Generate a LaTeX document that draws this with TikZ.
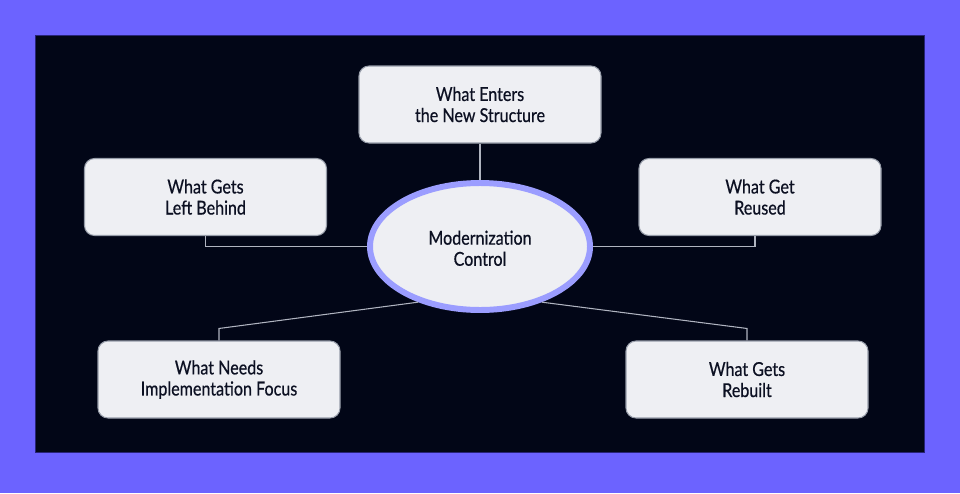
\documentclass[tikz,border=0pt]{standalone}
\usepackage{fontspec}
\setmainfont{Lato}
\newfontfamily\cardfont{Lato}[FakeBold=0.6, FakeStretch=0.84]
\usepackage{xcolor}
\usepackage{tikz}
\usetikzlibrary{positioning, calc, shapes.geometric}
\definecolor{FramePurple}{RGB}{108,99,255}
\definecolor{NightBlue}{RGB}{2,6,23}
\definecolor{PanelEdge}{RGB}{40,36,120}
\definecolor{CardFill}{RGB}{238,239,243}
\definecolor{CardEdge}{RGB}{150,156,168}
\definecolor{InkNavy}{RGB}{12,16,34}
\definecolor{HubRing}{RGB}{155,157,255}
\definecolor{LinkGrey}{RGB}{176,180,192}
\tikzset{
  topicbox/.style={draw=CardEdge, line width=0.6pt, fill=CardFill, rounded corners=0.2cm,
    minimum width=4.84cm, minimum height=1.54cm, inner sep=2pt, align=center,
    font=\cardfont\fontsize{10.9}{12}\selectfont, text=InkNavy},
  hubnode/.style={ellipse, draw=HubRing, line width=3.4pt, fill=CardFill,
    minimum width=4.4cm, minimum height=2.54cm, inner sep=0pt, align=center,
    font=\cardfont\fontsize{10.9}{12}\selectfont, text=InkNavy},
  linkline/.style={draw=LinkGrey, line width=0.6pt},
}

\begin{document}
\begin{tikzpicture}
  % frame and panel
  \fill[FramePurple] (0,0) rectangle (19.2,9.86);
  \filldraw[fill=NightBlue, draw=PanelEdge, line width=0.5pt] (0.7,0.82) rectangle (18.48,9.16);
  \useasboundingbox (0,0) rectangle (19.2,9.86);

  % hub and topics
  \node[hubnode] (hub) at (9.6,4.93) {\rule{0pt}{10pt}Modernization\\Control};
  \node[topicbox] (enters) at (9.6,7.77) {What Enters\\the New Structure};
  \node[topicbox] (behind) at (4.11,5.92) {What Gets\\Left Behind};
  \node[topicbox] (reused) at (15.2,5.92) {What Get\\Reused};
  \node[topicbox] (focus) at (4.38,2.27) {What Needs\\Implementation Focus};
  \node[topicbox] (rebuilt) at (14.94,2.27) {What Gets\\Rebuilt};

  % connectors
  \coordinate (reusedfoot) at ($(reused.south)+(-0.1,0)$);
  \coordinate (focusbend) at ($(focus.north)+(0,0.24)$);
  \coordinate (rebuiltbend) at ($(rebuilt.north)+(0,0.24)$);
  \draw[linkline] (enters.south) -- (hub.north);
  \draw[linkline] (behind.south) |- (hub.west);
  \draw[linkline] (reusedfoot) |- (hub.east);
  \draw[linkline] (hub.222) -- (focusbend) -- (focus.north);
  \draw[linkline] (hub.318) -- (rebuiltbend) -- (rebuilt.north);
\end{tikzpicture}
\end{document}
